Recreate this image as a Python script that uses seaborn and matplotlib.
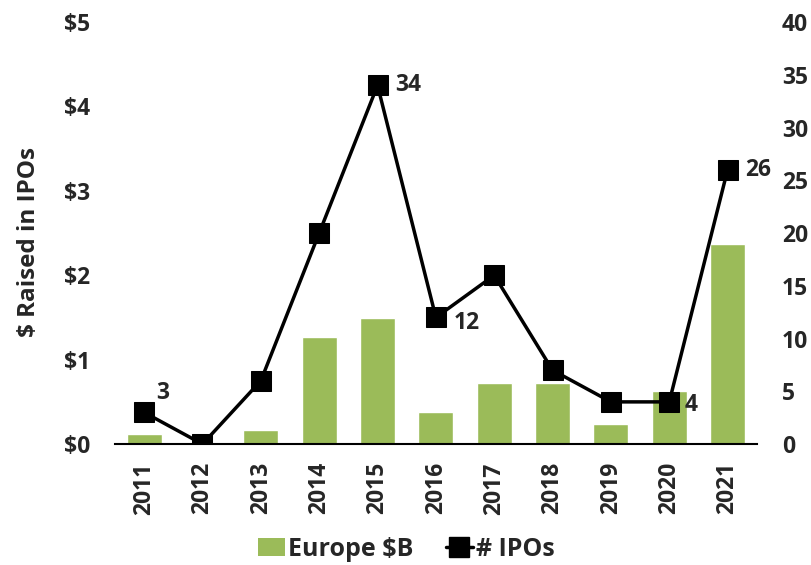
import numpy as np
import pandas as pd
import matplotlib
matplotlib.use("Agg")
import matplotlib.pyplot as plt
import seaborn as sns
from matplotlib.lines import Line2D
from matplotlib.patches import Patch

years = ["2011", "2012", "2013", "2014", "2015", "2016", "2017", "2018", "2019", "2020", "2021"]
europe_b = [0.12, 0.0, 0.17, 1.27, 1.49, 0.38, 0.72, 0.72, 0.24, 0.63, 2.37]
ipos = [3, 0, 6, 20, 34, 12, 16, 7, 4, 4, 26]
labelled = {"2011": 3, "2015": 34, "2016": 12, "2020": 4, "2021": 26}

sns.set_style("white")
plt.rcParams["font.family"] = ["Open Sans", "DejaVu Sans"]
plt.rcParams["font.weight"] = "bold"

df = pd.DataFrame({"year": years, "europe": europe_b, "ipos": ipos, "pos": np.arange(len(years))})

fig = plt.figure(figsize=(8.12, 5.65), dpi=100)
ax = fig.add_axes([0.1416, 0.214, 0.7904, 0.747])

fs = 16.5
green = "#9BBB59"
sns.barplot(data=df, x="year", y="europe", color=green, width=0.6, saturation=1, ax=ax)
ax.set_ylim(0, 5)
ax.set_xlim(-0.5, len(years) - 0.5)
ax.set_yticks(range(0, 6))
ax.set_yticklabels([f"${v}" for v in range(0, 6)], fontweight="bold")
ax.set_ylabel("$ Raised in IPOs", fontsize=17.5, fontweight="bold")
ax.yaxis.set_label_coords(-0.115, 0.48)
ax.set_xlabel("")

ax2 = ax.twinx()
sns.lineplot(data=df, x="pos", y="ipos", color="black", linewidth=2.5, marker="s",
             markersize=14, markeredgecolor="black", ax=ax2)
ax2.set_ylim(0, 40)
ax2.set_yticks(range(0, 41, 5))
ax2.set_yticklabels([str(v) for v in range(0, 41, 5)], fontweight="bold")
ax2.set_ylabel("")
ax2.set_xlim(-0.5, len(years) - 0.5)

offsets = {"2011": (0.2, 1.8), "2015": (0.3, 0), "2016": (0.3, -0.5), "2020": (0.27, -0.3), "2021": (0.3, 0)}
for y, v in labelled.items():
    i = years.index(y)
    dx, dy = offsets[y]
    ax2.text(i + dx, v + dy, str(v), fontsize=fs, fontweight="bold", va="center", ha="left")

for a in (ax, ax2):
    for s in ("top", "left", "right"):
        a.spines[s].set_visible(False)
    a.tick_params(axis="y", length=0, labelsize=fs, pad=18)
    a.grid(False)
ax2.spines["bottom"].set_visible(False)
ax.spines["bottom"].set_color("black")
ax.spines["bottom"].set_linewidth(1.5)

ax.tick_params(axis="x", which="major", length=0, labelsize=fs, rotation=90, pad=13)
for t in ax.get_xticklabels():
    t.set_fontweight("bold")
ax.set_xticks(np.arange(-0.5, len(years), 1.0), minor=True)
ax.tick_params(axis="x", which="minor", length=7, width=1.5, color="black", direction="out")

handles = [Patch(facecolor=green, edgecolor="none"),
           Line2D([0], [0], color="black", linewidth=2.5, marker="s", markersize=14)]
fig.legend(handles, ["Europe $B", "# IPOs"], loc="lower center", bbox_to_anchor=(0.5, -0.034),
           ncol=2, frameon=False, prop={"size": 18, "weight": "bold"},
           handlelength=1.1, handletextpad=0.1, columnspacing=1.3)

fig.savefig("out.png", dpi=100)
plt.close("all")
